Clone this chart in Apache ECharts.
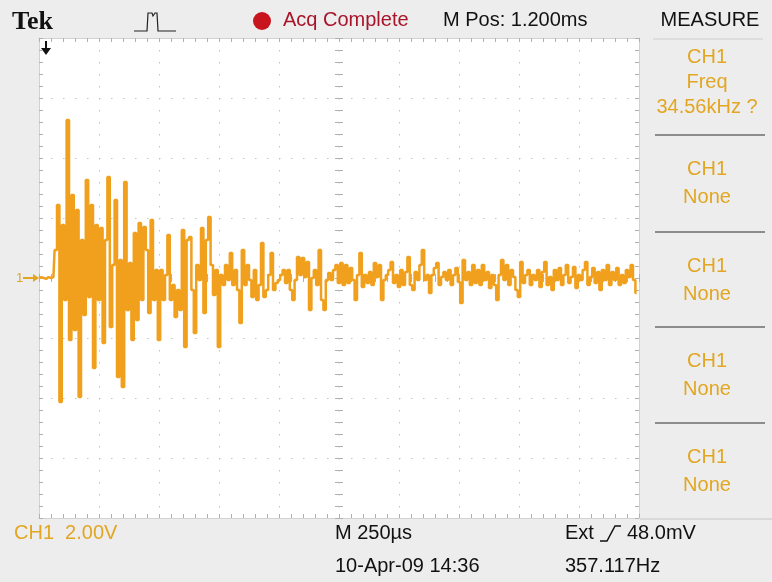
<!DOCTYPE html>
<html><head><meta charset="utf-8">
<script src="https://cdn.jsdelivr.net/npm/echarts@6/dist/echarts.min.js"></script>
<style>html,body{margin:0;padding:0;background:#ededed}#c{width:772px;height:582px}</style>
</head><body><div id="c"></div><script>
// ---- data ----
const timeStepUs = 10;          // sample spacing (µs)
const timePerDivUs = 250;       // M 250µs
const voltsPerDiv = 2;          // CH1 2.00V
const ch1Volts = [
  0,0.03,0,-0.03,0.03,0,0.03,
  0.93,2.43,-4.13,1.77,-0.73,5.27,-2.07,2.77,-1.73,2.27,-3.97,1.27,-1.23,3.27,
  -0.63,2.43,-3.0,1.77,-0.73,1.67,-2.17,1.27,3.37,-1.63,0.43,2.6,-3.3,0.6,-3.63,
  3.2,-1.07,0.5,-2.07,1.5,-1.4,1.83,-0.73,1.7,0.93,-1.17,1.93,-0.73,0.27,-2.07,
  0.27,-0.73,0.1,1.43,-0.73,-0.23,-1.3,-0.4,-1.07,1.6,-2.3,1.27,1.37,-0.4,-1.83,
  0.43,-0.07,1.67,-1.17,1.27,2.03,0.43,-0.57,0.27,-2.3,0.1,-0.23,0.43,-0.07,0.83,
  -0.23,0.27,-0.4,-1.5,0.93,-0.23,0.43,-0.07,-0.63,0.27,-0.73,-0.23,1.17,-0.63,-0.4,
  0.1,0.83,-0.4,-0.17,-0.07,0.1,0.27,-0.17,0.27,-0.4,-0.73,-0.07,0.7,0.1,0.67,
  0.03,0.53,-1.07,0,0.27,-0.23,0.93,-0.73,-1.07,-0.07,0.17,-0.07,0.27,0.43,-0.17,
  0.5,-0.23,0.43,-0.17,0.33,-0.07,-0.73,0.1,0.83,-0.3,0.1,-0.17,0.2,-0.23,0.5,
  0.03,0.43,-0.73,-0.07,0.1,0.27,0.53,-0.17,0.1,-0.3,0.27,-0.23,0.2,0.7,-0.23,
  -0.4,0.2,-0.07,0.43,0.93,-0.07,0.1,-0.5,0.1,0.33,0.5,-0.23,0.03,0.2,-0.07,
  0.27,-0.23,0.1,0.33,-0.13,-0.83,0.6,-0.07,0.2,-0.23,0.43,-0.17,0.27,-0.23,0.43,
  -0.07,0.2,-0.33,0.1,-0.23,-0.73,0.1,0.6,-0.07,0.43,-0.23,0.27,0.03,-0.4,-0.63,
  0.53,-0.17,0.1,0.27,-0.23,0.1,-0.07,0.27,-0.3,0.2,0.53,-0.23,0.03,-0.4,0.27,
  -0.07,0.33,-0.23,0.1,0.43,-0.17,0.03,0.37,-0.33,0.1,-0.07,0.27,0.53,-0.23,0.03,
  0.33,-0.17,0.2,-0.4,0.27,-0.07,0.43,-0.23,0.2,-0.07,0.33,-0.23,0.1,-0.17,0.27,
  0.03,0.43,-0.07,-0.5
];
const headerTexts = ['Tek', 'Acq Complete', 'M Pos: 1.200ms', 'MEASURE'];
const measureBoxes = [['CH1','Freq','34.56kHz ?'],['CH1','None'],['CH1','None'],['CH1','None'],['CH1','None']];
const footerTexts = ['CH1  2.00V', 'M 250µs', 'Ext', '48.0mV', '10-Apr-09 14:36', '357.117Hz'];

// ---- chart ----
const traceData = ch1Volts.map((v, i) => [i * timeStepUs, v]);
const chart = echarts.init(document.getElementById('c'), null, {renderer: 'canvas'});
const G = {left: 39, top: 38, width: 600, height: 480};
const tickCol = '#b0b0b0';
const SANS = "'Liberation Sans', Arial, sans-serif";
const GOLD = '#e2a622';

function baseAxis(extra) {
  return Object.assign({
    type: 'value', axisLabel: {show: false},
    axisLine: {show: true, onZero: false, lineStyle: {color: '#d2d2d2'}},
    axisTick: {show: true, inside: true, length: 4, lineStyle: {color: tickCol}},
    minorTick: {show: true, splitNumber: 5, length: 4, lineStyle: {color: tickCol}},
    splitLine: {show: false}
  }, extra);
}
const xMax = 10 * timePerDivUs, yMax = 4 * voltsPerDiv;
const hideLine = {show: false, onZero: false};

const graphics = [];
function txt(x, y, s, fill, size, opts) {
  graphics.push({type: 'text', x, y, silent: true, style: Object.assign({
    text: s, fill, fontSize: size, fontFamily: SANS, align: 'left', verticalAlign: 'middle'}, opts || {})});
}
// header
txt(12, 22, headerTexts[0], '#111', 26, {fontFamily: "'Liberation Serif', serif", fontWeight: 'bold'});
graphics.push({type: 'polyline', silent: true, shape: {points: [[134,31],[147,31],[148,13],[152,13],[153,16],[155,13],[157,13],[158,31],[176,31]]},
  style: {stroke: '#222', lineWidth: 1.2, fill: null}});
graphics.push({type: 'circle', silent: true, shape: {cx: 262, cy: 21, r: 9}, style: {fill: '#c8141e'}});
txt(283, 20, headerTexts[1], '#a8142a', 20);
txt(443, 20, headerTexts[2], '#111', 20);
txt(710, 20, headerTexts[3], '#111', 20, {align: 'center'});
// trigger position arrow
graphics.push({type: 'line', silent: true, shape: {x1: 46, y1: 41, x2: 46, y2: 50}, style: {stroke: '#111', lineWidth: 2}});
graphics.push({type: 'polygon', silent: true, shape: {points: [[41,48],[51,48],[46,55]]}, style: {fill: '#111'}});
// channel ground marker
txt(16, 278, '1', GOLD, 13);
graphics.push({type: 'line', silent: true, shape: {x1: 23, y1: 278, x2: 37, y2: 278}, style: {stroke: GOLD, lineWidth: 2}});
graphics.push({type: 'polygon', silent: true, shape: {points: [[33,274],[39,278],[33,282]]}, style: {fill: GOLD}});
// measure panel
graphics.push({type: 'line', silent: true, shape: {x1: 653, y1: 39, x2: 763, y2: 39}, style: {stroke: '#cdcdcd', lineWidth: 1}});
const sepY = [135, 232, 327, 423];
sepY.forEach(y => graphics.push({type: 'line', silent: true, shape: {x1: 655, y1: y, x2: 765, y2: y}, style: {stroke: '#8c8c8c', lineWidth: 2}}));
graphics.push({type: 'line', silent: true, shape: {x1: 640, y1: 519, x2: 772, y2: 519}, style: {stroke: '#c6c6c6', lineWidth: 1}});
const boxTop = [40, 135, 232, 327, 423];
measureBoxes.forEach((lines, b) => {
  const y0 = b === 0 ? 57 : boxTop[b] + 34;
  const step = b === 0 ? 25 : 28.5;
  lines.forEach((s, j) => txt(707, y0 + j * step, s, GOLD, 20, {align: 'center'}));
});
// footer
txt(14, 533, footerTexts[0], GOLD, 20);
txt(335, 533, footerTexts[1], '#111', 20);
txt(565, 533, footerTexts[2], '#111', 20);
graphics.push({type: 'polyline', silent: true, shape: {points: [[600,541],[607,541],[615,526],[621,526]]}, style: {stroke: '#111', lineWidth: 1.5, fill: null}});
txt(627, 533, footerTexts[3], '#111', 20);
txt(335, 566, footerTexts[4], '#111', 20);
txt(565, 566, footerTexts[5], '#111', 20);

chart.setOption({
  animation: false,
  backgroundColor: '#ededed',
  grid: [
    Object.assign({show: true, backgroundColor: '#ffffff', borderWidth: 0}, G),
    Object.assign({}, G), Object.assign({}, G), Object.assign({}, G)
  ],
  xAxis: [
    baseAxis({gridIndex: 0, min: 0, max: xMax, interval: timePerDivUs, position: 'bottom',
      splitLine: {show: true, lineStyle: {color: '#c2c2c2', width: 1, type: [1.5, 10.5]}}}),
    baseAxis({gridIndex: 1, min: 0, max: xMax, interval: timePerDivUs, position: 'top'}),
    baseAxis({gridIndex: 2, min: 0, max: xMax, interval: timePerDivUs, position: 'bottom', offset: -G.height / 2, axisLine: hideLine}),
    baseAxis({gridIndex: 3, min: 0, max: xMax, interval: timePerDivUs, position: 'top', offset: -G.height / 2, axisLine: hideLine})
  ],
  yAxis: [
    baseAxis({gridIndex: 0, min: -yMax, max: yMax, interval: voltsPerDiv, position: 'left',
      splitLine: {show: true, lineStyle: {color: '#c2c2c2', width: 1, type: [1.5, 10.5]}}}),
    baseAxis({gridIndex: 1, min: -yMax, max: yMax, interval: voltsPerDiv, position: 'right'}),
    baseAxis({gridIndex: 2, min: -yMax, max: yMax, interval: voltsPerDiv, position: 'left', offset: -G.width / 2, axisLine: hideLine}),
    baseAxis({gridIndex: 3, min: -yMax, max: yMax, interval: voltsPerDiv, position: 'right', offset: -G.width / 2, axisLine: hideLine})
  ],
  series: [{
    type: 'line', xAxisIndex: 0, yAxisIndex: 0, data: traceData, step: 'middle',
    showSymbol: false, silent: true, z: 5,
    lineStyle: {color: '#f0a01c', width: 2.5}
  }],
  graphic: graphics
});
</script></body></html>
